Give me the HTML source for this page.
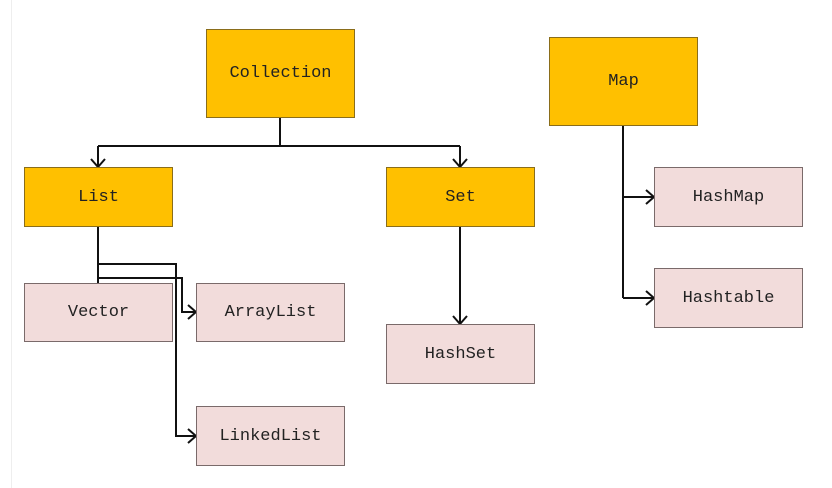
<!DOCTYPE html>
<html><head><style>
body{margin:0;background:#fff;width:832px;height:488px;overflow:hidden;position:relative;font-family:"Liberation Mono","Noto Serif CJK SC",monospace;}
.b{position:absolute;box-sizing:border-box;display:flex;align-items:center;justify-content:center;font-size:17px;color:#222;}
.y{background:#ffc000;border:1px solid #8a6d1a;}
.p{background:#f2dcdb;border:1px solid #7a6a6a;}
</style></head><body>
<div style="position:absolute;left:11px;top:0;width:1px;height:488px;background:#eee"></div>
<svg width="832" height="488" style="position:absolute;left:0;top:0" fill="none" stroke="#111" stroke-width="2">
<path d="M280 118V146M98 146H460M98 146V167M460 146V167"/>
<path d="M91 159L98 167L105 159M453 159L460 167L467 159"/>
<path d="M98 227V283M98 264H176V436H196M98 278H182V312H196"/>
<path d="M188 305L196 312L188 319M188 429L196 436L188 443"/>
<path d="M460 227V324M453 316L460 324L467 316"/>
<path d="M623 126V298M623 197H654M623 298H654M646 190L654 197L646 204M646 291L654 298L646 305"/>
</svg>
<div class="b y" style="left:206px;top:29px;width:149px;height:89px">Collection</div>
<div class="b y" style="left:24px;top:167px;width:149px;height:60px">List</div>
<div class="b y" style="left:386px;top:167px;width:149px;height:60px">Set</div>
<div class="b y" style="left:549px;top:37px;width:149px;height:89px">Map</div>
<div class="b p" style="left:24px;top:283px;width:149px;height:59px">Vector</div>
<div class="b p" style="left:196px;top:283px;width:149px;height:59px">ArrayList</div>
<div class="b p" style="left:196px;top:406px;width:149px;height:60px">LinkedList</div>
<div class="b p" style="left:386px;top:324px;width:149px;height:60px">HashSet</div>
<div class="b p" style="left:654px;top:167px;width:149px;height:60px">HashMap</div>
<div class="b p" style="left:654px;top:268px;width:149px;height:60px">Hashtable</div>
</body></html>
